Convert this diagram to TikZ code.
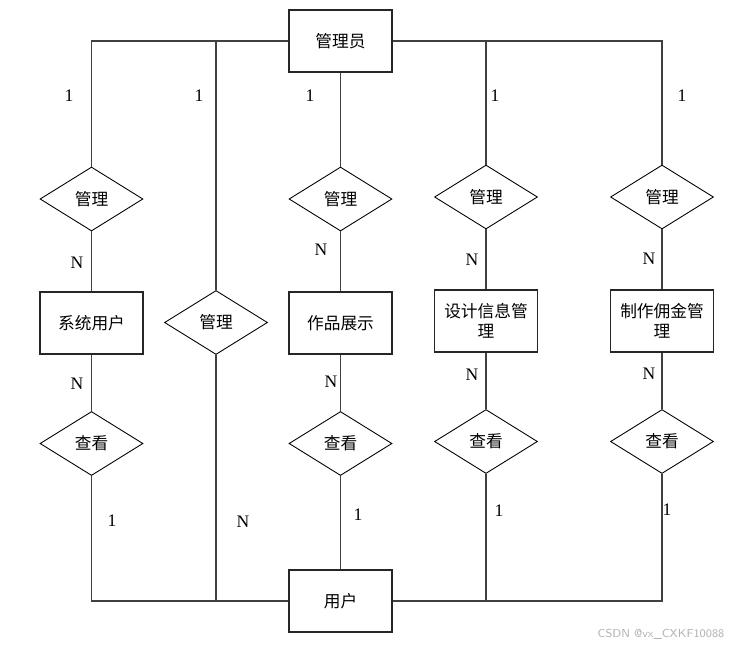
\documentclass[tikz,border=0pt]{standalone}
\usepackage{fontspec}
\setmainfont{Liberation Serif}
\newfontfamily\cjk{Noto Sans CJK SC}
\usetikzlibrary{shapes.geometric, positioning}
\tikzset{every node/.append style={align=center, inner sep=2pt}}

\begin{document}
\begin{tikzpicture}[x=0.02cm, y=-0.02cm,
    ent/.style={rectangle, draw=black!85, line width=0.6pt, fill=white, minimum width=2.06cm, minimum height=1.24cm, font=\cjk\fontsize{9.5}{11.5}\selectfont},
    rel/.style={diamond, draw=black, line width=0.5pt, fill=white, inner sep=0pt, minimum width=2.06cm, minimum height=1.28cm, font=\cjk\fontsize{9.5}{11.5}\selectfont},
    card/.style={font=\fontsize{10}{12}\selectfont},
    ln/.style={draw=black!75, line width=0.6pt}]
\useasboundingbox (0,0) rectangle (744,647);
% entities
\node[ent] (gly) at (340.5,41) {管理员};
\node[ent] (yh) at (340.5,601) {用户};
\node[ent] (xtyh) at (91.5,323) {系统用户};
\node[ent] (zpzs) at (340.5,323) {作品展示};
\node[ent] (sjxx) at (486,321) {设计信息管\\理};
\node[ent] (zzyj) at (662,321) {制作佣金管\\理};
% relations
\node[rel] (mg1) at (91.5,199) {管理};
\node[rel] (mg2) at (216,322.5) {管理};
\node[rel] (mg3) at (340.5,199) {管理};
\node[rel] (mg4) at (486,197) {管理};
\node[rel] (mg5) at (662,197) {管理};
\node[rel] (ck1) at (91.5,443.5) {查看};
\node[rel] (ck2) at (340.5,443.5) {查看};
\node[rel] (ck3) at (486,441.5) {查看};
\node[rel] (ck4) at (662,441.5) {查看};
% connectors
\draw[ln] (gly.west) -| (mg1.north);
\draw[ln] (gly.west) -| (mg2.north);
\draw[ln] (gly.south) -- (mg3.north);
\draw[ln] (gly.east) -| (mg4.north);
\draw[ln] (gly.east) -| (mg5.north);
\draw[ln] (mg1.south) -- (xtyh.north);
\draw[ln] (mg3.south) -- (zpzs.north);
\draw[ln] (mg4.south) -- (sjxx.north);
\draw[ln] (mg5.south) -- (zzyj.north);
\draw[ln] (xtyh.south) -- (ck1.north);
\draw[ln] (zpzs.south) -- (ck2.north);
\draw[ln] (sjxx.south) -- (ck3.north);
\draw[ln] (zzyj.south) -- (ck4.north);
\draw[ln] (ck1.south) |- (yh.west);
\draw[ln] (mg2.south) |- (yh.west);
\draw[ln] (ck2.south) -- (yh.north);
\draw[ln] (ck3.south) |- (yh.east);
\draw[ln] (ck4.south) |- (yh.east);
% cardinalities
\node[card] (t1) at (69,96) {1};
\node[card] (t2) at (199,96) {1};
\node[card] (t3) at (310,96) {1};
\node[card] (t4) at (495,96) {1};
\node[card] (t5) at (682,96) {1};
\node[card] (u1) at (77,263) {N};
\node[card] (u3) at (321,250) {N};
\node[card] (u4) at (472,260) {N};
\node[card] (u5) at (649,259) {N};
\node[card] (d1) at (77,384) {N};
\node[card] (d2) at (331,382) {N};
\node[card] (d3) at (472,375) {N};
\node[card] (d4) at (649,374) {N};
\node[card] (b1) at (112,521) {1};
\node[card] (b2) at (243,522) {N};
\node[card] (b3) at (358,515) {1};
\node[card] (b4) at (499,511) {1};
\node[card] (b5) at (667,510) {1};
\node[font=\fontfamily{lmss}\fontsize{6.6}{8}\selectfont, text=black!30] (wm) at (661,634) {CSDN @vx\_CXKF10088};
\end{tikzpicture}
\end{document}
